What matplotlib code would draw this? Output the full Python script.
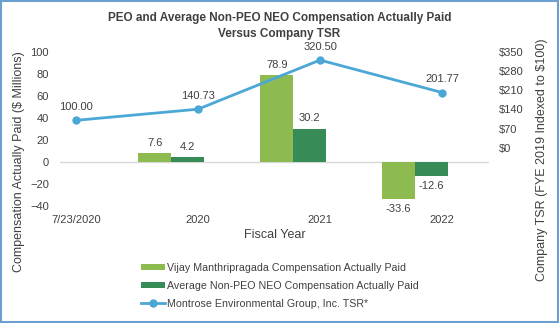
import matplotlib.pyplot as plt
import numpy as np
from matplotlib.patches import Rectangle

plt.rcParams["font.family"] = ["Liberation Sans", "DejaVu Sans"]

# Fiscal periods and values
periods = ["7/23/2020", "2020", "2021", "2022"]
peo_cap = [7.6, 78.9, -33.6]          # $M, fiscal years 2020-2022
neo_cap = [4.2, 30.2, -12.6]          # $M, fiscal years 2020-2022
tsr = [100.00, 140.73, 320.50, 201.77]
tsr_ticks = [0, 70, 140, 210, 280, 350]

light_green = "#8DBB50"
dark_green = "#378B57"
tsr_blue = "#4BA7D5"
text_col = "#404040"

fig = plt.figure(figsize=(5.59, 3.23), dpi=100)
ax = fig.add_axes([60 / 559, 1 - 205.6 / 323, 429 / 559, 153.6 / 323])
ax2 = ax.twinx()

x = np.arange(len(periods))
bx = x[1:] - 0.22
w = 0.27

b1 = ax.bar(bx - w / 2, peo_cap, w, color=light_green,
            label="Vijay Manthripragada Compensation Actually Paid")
b2 = ax.bar(bx + w / 2, neo_cap, w, color=dark_green,
            label="Average Non-PEO NEO Compensation Actually Paid")
ax.axhline(0, color="#D9D9D9", lw=1, zorder=0)

for bars, vals in ((b1, peo_cap), (b2, neo_cap)):
    for r, v in zip(bars, vals):
        cx = r.get_x() + r.get_width() / 2
        if v >= 0:
            ax.annotate(f"{v:.1f}", (cx, v), xytext=(0, 4), textcoords="offset points",
                        ha="center", va="bottom", fontsize=8, color=text_col)
        else:
            ax.annotate(f"{v:.1f}", (cx, v), xytext=(0, -4), textcoords="offset points",
                        ha="center", va="top", fontsize=8, color=text_col)

ln, = ax2.plot(x, tsr, color=tsr_blue, lw=2, marker="o", ms=5,
               label="Montrose Environmental Group, Inc. TSR*")
for xi, v in zip(x, tsr):
    ax2.annotate(f"{v:.2f}", (xi, v), xytext=(0, 6), textcoords="offset points",
                 ha="center", va="bottom", fontsize=8, color=text_col)

ax.set_xlim(-0.131, 3.385)
ax.set_ylim(-40, 100)
ax.set_yticks(np.arange(-40, 101, 20))
ax2.set_ylim(-212, 350)
ax2.set_yticks(tsr_ticks)
ax2.set_yticklabels([f"${t}" for t in tsr_ticks])

ax.set_xticks(x)
ax.set_xticklabels(periods)

for a in (ax, ax2):
    for s in a.spines.values():
        s.set_visible(False)
    a.tick_params(length=0, labelsize=8, colors=text_col)
ax.tick_params(axis="y", pad=8)
ax.tick_params(axis="x", pad=7)
ax2.tick_params(axis="y", pad=7)

ax.set_ylabel("Compensation Actually Paid ($ Millions)", fontsize=9, color=text_col)
ax.yaxis.set_label_coords(-0.0816, 0.284)
ax2.set_ylabel("Company TSR (FYE 2019 Indexed to $100)", fontsize=9, color=text_col)
ax2.yaxis.set_label_coords(1.11, 0.297)
ax.set_xlabel("Fiscal Year", fontsize=9, color=text_col, labelpad=3)

fig.text(0.5, 1 - 26 / 323, "PEO and Average Non-PEO NEO Compensation Actually Paid\nVersus Company TSR",
         ha="center", va="center", fontsize=8.5, fontweight="bold", color=text_col, linespacing=1.45)

fig.legend(handles=[b1, b2, ln], loc="upper left", bbox_to_anchor=(131 / 559, 1 - 253 / 323),
           frameon=False, fontsize=7.7, handlelength=2.3, handleheight=0.5,
           handletextpad=0.2, labelspacing=0.75, labelcolor=text_col)

fig.patches.append(Rectangle((0.0015, 0.0025), 0.997, 0.995, transform=fig.transFigure,
                             fill=False, edgecolor="#6A9FCF", lw=1.5))

fig.savefig("out.png", dpi=100)
